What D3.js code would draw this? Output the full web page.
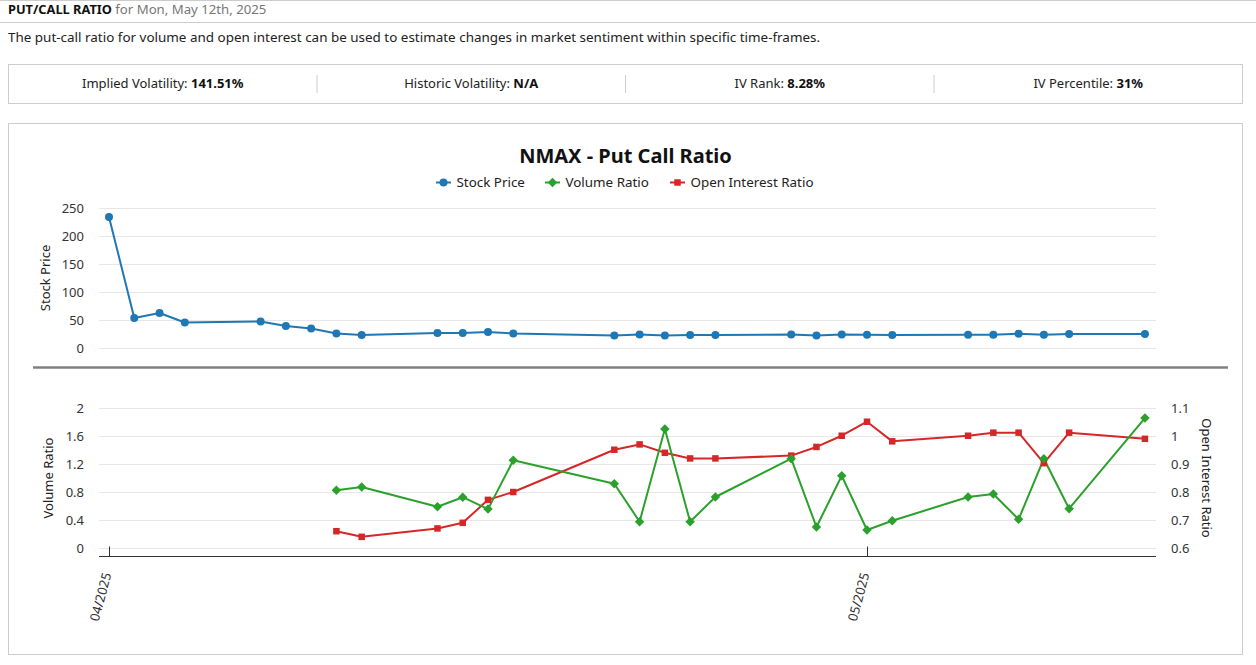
<!DOCTYPE html>
<html><head><meta charset="utf-8">
<script src="https://cdn.jsdelivr.net/npm/d3@7"></script>
<style>
body{margin:0;background:#fff;font-family:"Noto Sans",sans-serif;}
svg{display:block}
</style>
</head><body>
<svg id="c" width="1256" height="665"></svg>
<script>
// ---------- data ----------
const priceDates = ["2025-04-01","2025-04-02","2025-04-03","2025-04-04","2025-04-07","2025-04-08","2025-04-09","2025-04-10","2025-04-11","2025-04-14","2025-04-15","2025-04-16","2025-04-17","2025-04-21","2025-04-22","2025-04-23","2025-04-24","2025-04-25","2025-04-28","2025-04-29","2025-04-30","2025-05-01","2025-05-02","2025-05-05","2025-05-06","2025-05-07","2025-05-08","2025-05-09","2025-05-12"];
const stockPrice = [234,53.6,62.5,45.5,47.3,39.3,34.8,25.9,23.2,26.8,26.8,28.6,26,22.3,24,22.3,23.2,23.2,24,22.3,24,23.8,23.2,23.8,23.8,25.6,23.8,25,25];
const ratioDates = ["2025-04-10","2025-04-11","2025-04-14","2025-04-15","2025-04-16","2025-04-17","2025-04-21","2025-04-22","2025-04-23","2025-04-24","2025-04-25","2025-04-28","2025-04-29","2025-04-30","2025-05-01","2025-05-02","2025-05-05","2025-05-06","2025-05-07","2025-05-08","2025-05-09","2025-05-12"];
const volumeRatio = [0.83,0.876,0.594,0.73,0.56,1.257,0.923,0.38,1.704,0.38,0.733,1.28,0.304,1.037,0.261,0.394,0.733,0.776,0.414,1.28,0.566,1.861];
const oiRatio = [0.661,0.641,0.671,0.691,0.773,0.801,0.952,0.971,0.941,0.921,0.921,0.931,0.962,1.002,1.052,0.982,1.002,1.013,1.013,0.904,1.013,0.991];
const priceTicks = [0,50,100,150,200,250];
const volTicks = [0,0.4,0.8,1.2,1.6,2];
const oiTicks = [0.6,0.7,0.8,0.9,1,1.1];
const xTicks = ["2025-04-01","2025-05-01"];
const statLabels = ["Implied Volatility:","Historic Volatility:","IV Rank:","IV Percentile:"];
const statValues = ["141.51%","N/A","8.28%","31%"];
const seriesNames = ["Stock Price","Volume Ratio","Open Interest Ratio"];
const colors = ["#1f77b4","#2ca02c","#d62728"];

// ---------- setup ----------
const svg = d3.select("#c");
const parse = d3.utcParse("%Y-%m-%d");
const fmtX = d3.utcFormat("%m/%Y");

// header
svg.append("line").attr("x1",0).attr("x2",1256).attr("y1",0.5).attr("y2",0.5).attr("stroke","#ccc");
svg.append("line").attr("x1",0).attr("x2",1256).attr("y1",22.5).attr("y2",22.5).attr("stroke","#ccc");
const h = svg.append("text").attr("x",8).attr("y",14).attr("font-size",12.8);
h.append("tspan").attr("font-weight","bold").attr("fill","#111").text("PUT/CALL RATIO");
h.append("tspan").attr("fill","#777").attr("font-size",13.2).text(" for Mon, May 12th, 2025");
svg.append("text").attr("x",8).attr("y",42).attr("font-size",13.45).attr("fill","#222")
  .text("The put-call ratio for volume and open interest can be used to estimate changes in market sentiment within specific time-frames.");

// stats box
svg.append("rect").attr("x",8.5).attr("y",64.5).attr("width",1234).attr("height",39).attr("fill","none").attr("stroke","#ccc");
const cellW = 1234/4;
statLabels.forEach((l,i)=>{
  const cx = 8.5 + cellW*i + cellW/2;
  const t = svg.append("text").attr("x",cx).attr("y",88).attr("text-anchor","middle").attr("font-size",13).attr("fill","#222");
  t.append("tspan").text(l+" ");
  t.append("tspan").attr("font-weight","bold").attr("fill","#111").text(statValues[i]);
  if(i>0) svg.append("line").attr("x1",8.5+cellW*i).attr("x2",8.5+cellW*i).attr("y1",75).attr("y2",93).attr("stroke","#ccc");
});

// chart box
svg.append("rect").attr("x",8.5).attr("y",123.5).attr("width",1234).attr("height",531).attr("fill","none").attr("stroke","#ccc");

svg.append("text").attr("x",625.5).attr("y",163).attr("text-anchor","middle").attr("font-size",20).attr("font-weight","bold").attr("fill","#111").text("NMAX - Put Call Ratio");

// legend
const legX = [436,545,670];
seriesNames.forEach((n,i)=>{
  const g = svg.append("g").attr("transform",`translate(${legX[i]},182.5)`);
  g.append("line").attr("x1",0).attr("x2",15).attr("stroke",colors[i]).attr("stroke-width",2);
  if(i===0) g.append("circle").attr("cx",7.5).attr("r",4).attr("fill",colors[i]);
  if(i===1) g.append("path").attr("d",d3.symbol(d3.symbolSquare,45)()).attr("transform","translate(7.5,0) rotate(45)").attr("fill",colors[i]);
  if(i===2) g.append("rect").attr("x",4.25).attr("y",-3.25).attr("width",6.5).attr("height",6.5).attr("fill",colors[i]);
  g.append("text").attr("x",20.5).attr("y",0).attr("dy","0.35em").attr("font-size",13.4).attr("fill","#222").text(n);
});

// scales
const x = d3.scaleUtc().domain([parse("2025-04-01"),parse("2025-05-01")]).range([109,867]);
const yP = d3.scaleLinear().domain([0,250]).range([348,208]);
const yV = d3.scaleLinear().domain([0,2]).range([548.3,408.3]);
const yO = d3.scaleLinear().domain([0.6,1.1]).range([548.3,408.3]);
const gx0 = 99, gx1 = 1156;

// gridlines
function grid(scale, ticks){
  svg.append("g").selectAll("line").data(ticks).join("line")
    .attr("x1",gx0).attr("x2",gx1)
    .attr("y1",d=>Math.round(scale(d))+0.5).attr("y2",d=>Math.round(scale(d))+0.5)
    .attr("stroke","#e6e6e6");
}
grid(yP, priceTicks);
grid(yV, volTicks);

// axes (labels only)
const axP = svg.append("g").attr("transform","translate(88,0)")
  .call(d3.axisLeft(yP).tickValues(priceTicks).tickSize(0).tickPadding(4).tickFormat(d3.format("d")));
const axV = svg.append("g").attr("transform","translate(88,0)")
  .call(d3.axisLeft(yV).tickValues(volTicks).tickSize(0).tickPadding(4).tickFormat(d=>d3.format("~g")(d)));
const axO = svg.append("g").attr("transform","translate(1167,0)")
  .call(d3.axisRight(yO).tickValues(oiTicks).tickSize(0).tickPadding(4).tickFormat(d=>d3.format("~g")(d)));
[axP,axV,axO].forEach(a=>{
  a.select(".domain").remove();
  a.selectAll("text").attr("font-size",13).attr("fill","#333").attr("font-family","Noto Sans");
});

// axis titles
svg.append("text").attr("transform","translate(45,278) rotate(-90)").attr("text-anchor","middle").attr("dy","0.35em").attr("font-size",13).attr("fill","#222").text("Stock Price");
svg.append("text").attr("transform","translate(48.5,478) rotate(-90)").attr("text-anchor","middle").attr("dy","0.35em").attr("font-size",13).attr("fill","#222").text("Volume Ratio");
svg.append("text").attr("transform","translate(1207,478) rotate(90)").attr("text-anchor","middle").attr("dy","0.35em").attr("font-size",13).attr("fill","#222").text("Open Interest Ratio");

// separator
svg.append("line").attr("x1",33).attr("x2",1228).attr("y1",367.5).attr("y2",367.5).attr("stroke","#808080").attr("stroke-width",2.5);

// bottom x axis
const axX = svg.append("g").attr("transform","translate(0,556.5)")
  .call(d3.axisTop(x).tickValues(xTicks.map(parse)).tickSize(10).tickFormat(""));
axX.select(".domain").remove();
axX.selectAll("line").attr("stroke","#333");
svg.append("line").attr("x1",gx0).attr("x2",gx1).attr("y1",556.5).attr("y2",556.5).attr("stroke","#333");
svg.append("g").selectAll("text").data(xTicks).join("text")
  .attr("transform",d=>`translate(${x(parse(d))-2},573) rotate(-75)`)
  .attr("text-anchor","end").attr("dy","0.35em").attr("font-size",13).attr("fill","#333")
  .text(d=>fmtX(parse(d)));

// series
const pData = priceDates.map((d,i)=>({x:parse(d),y:stockPrice[i]}));
const vData = ratioDates.map((d,i)=>({x:parse(d),y:volumeRatio[i]}));
const oData = ratioDates.map((d,i)=>({x:parse(d),y:oiRatio[i]}));

function drawLine(data, ys, color){
  svg.append("path").datum(data).attr("fill","none").attr("stroke",color).attr("stroke-width",2)
    .attr("stroke-linejoin","round")
    .attr("d",d3.line().x(d=>x(d.x)).y(d=>ys(d.y)));
}
drawLine(pData, yP, colors[0]);
drawLine(oData, yO, colors[2]);
drawLine(vData, yV, colors[1]);

svg.append("g").selectAll("circle").data(pData).join("circle")
  .attr("cx",d=>x(d.x)).attr("cy",d=>yP(d.y)).attr("r",4).attr("fill",colors[0]);
svg.append("g").selectAll("rect").data(oData).join("rect")
  .attr("x",d=>x(d.x)-3.25).attr("y",d=>yO(d.y)-3.25).attr("width",6.5).attr("height",6.5).attr("fill",colors[2]);
svg.append("g").selectAll("path").data(vData).join("path")
  .attr("d",d3.symbol(d3.symbolSquare,45)())
  .attr("transform",d=>`translate(${x(d.x)},${yV(d.y)}) rotate(45)`).attr("fill",colors[1]);
</script>
</body></html>
